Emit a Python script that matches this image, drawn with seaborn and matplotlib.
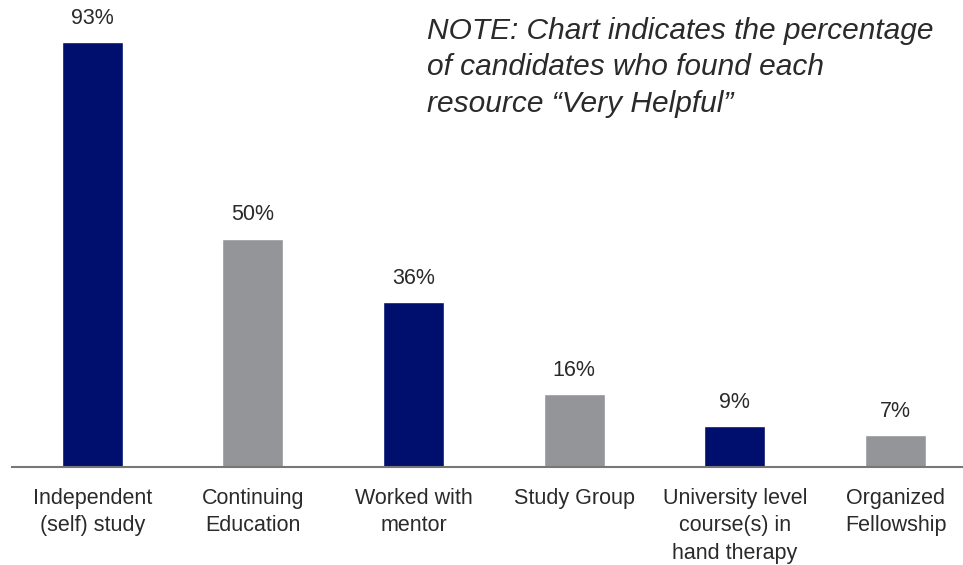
import matplotlib
matplotlib.use("Agg")
import matplotlib.pyplot as plt
import seaborn as sns
import pandas as pd

categories = [
    "Independent\n(self) study",
    "Continuing\nEducation",
    "Worked with\nmentor",
    "Study Group",
    "University level\ncourse(s) in\nhand therapy",
    "Organized\nFellowship",
]
values = [93, 50, 36, 16, 9, 7]
bar_colors = ["#000E6E", "#939598", "#000E6E", "#939598", "#000E6E", "#939598"]
note = "NOTE: Chart indicates the percentage\nof candidates who found each\nresource \u201cVery Helpful\u201d"

df = pd.DataFrame({"resource": categories, "pct": values})

sns.set_style("white")
plt.rcParams["font.family"] = ["Liberation Sans", "DejaVu Sans"]

fig = plt.figure(figsize=(9.63, 5.65), dpi=100)
ax = fig.add_axes([12 / 963, 98 / 565, 951 / 963, 457 / 565])

sns.barplot(data=df, x="resource", y="pct", hue="resource",
            palette=bar_colors, width=0.38, saturation=1, legend=False, ax=ax)

ax.set_xlim(-0.5, 5.42)
ax.set_ylim(0, 100)

# value labels above bars
for i, v in enumerate(values):
    ax.annotate(f"{v}%", (i, v), xytext=(0, 17), textcoords="offset points",
                ha="center", va="center", fontsize=15.5, color="#2a2a2a")

sns.despine(ax=ax, left=True, top=True, right=True)
ax.spines["bottom"].set_color("#777777")
ax.spines["bottom"].set_linewidth(1.5)
ax.set_yticks([])
ax.set_xlabel("")
ax.set_ylabel("")
ax.set_xticks(range(len(categories)))
ax.set_xticklabels(categories, linespacing=1.4, fontsize=15.5, color="#2a2a2a")
ax.tick_params(axis="x", length=0, pad=15)

fig.text(427 / 963, 1 - 17 / 565, note, ha="left", va="top", fontsize=21.5,
         style="italic", color="#2a2a2a", linespacing=1.38)

fig.savefig("out.png", dpi=100)
